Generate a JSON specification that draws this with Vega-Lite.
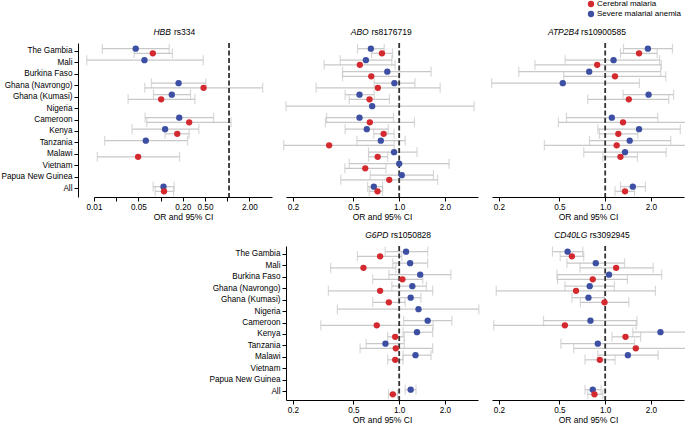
{
  "$schema": "https://vega.github.io/schema/vega-lite/v6.json",
  "background": "white",
  "padding": 0,
  "data": {"values": [
    {"g":"HBB","c":"The Gambia","s":"Severe malarial anemia","or":0.0415,"lo":0.0133,"hi":0.13},
    {"g":"HBB","c":"The Gambia","s":"Cerebral malaria","or":0.0743,"lo":0.0393,"hi":0.145},
    {"g":"HBB","c":"Mali","s":"Severe malarial anemia","or":0.0559,"lo":0.0078,"hi":0.415},
    {"g":"HBB","c":"Ghana (Navrongo)","s":"Severe malarial anemia","or":0.179,"lo":0.071,"hi":0.454},
    {"g":"HBB","c":"Ghana (Navrongo)","s":"Cerebral malaria","or":0.42,"lo":0.0565,"hi":3.15},
    {"g":"HBB","c":"Ghana (Kumasi)","s":"Severe malarial anemia","or":0.142,"lo":0.076,"hi":0.269},
    {"g":"HBB","c":"Ghana (Kumasi)","s":"Cerebral malaria","or":0.0988,"lo":0.032,"hi":0.312},
    {"g":"HBB","c":"Cameroon","s":"Severe malarial anemia","or":0.183,"lo":0.0572,"hi":0.59},
    {"g":"HBB","c":"Cameroon","s":"Cerebral malaria","or":0.257,"lo":0.0605,"hi":1.07},
    {"g":"HBB","c":"Kenya","s":"Severe malarial anemia","or":0.113,"lo":0.0367,"hi":0.357},
    {"g":"HBB","c":"Kenya","s":"Cerebral malaria","or":0.171,"lo":0.113,"hi":0.257},
    {"g":"HBB","c":"Tanzania","s":"Severe malarial anemia","or":0.0585,"lo":0.0144,"hi":0.243},
    {"g":"HBB","c":"Malawi","s":"Cerebral malaria","or":0.045,"lo":0.0112,"hi":0.185},
    {"g":"HBB","c":"All","s":"Severe malarial anemia","or":0.107,"lo":0.0752,"hi":0.154},
    {"g":"HBB","c":"All","s":"Cerebral malaria","or":0.109,"lo":0.0805,"hi":0.151},

    {"g":"ABO","c":"The Gambia","s":"Severe malarial anemia","or":0.651,"lo":0.532,"hi":0.797},
    {"g":"ABO","c":"The Gambia","s":"Cerebral malaria","or":0.77,"lo":0.658,"hi":0.905},
    {"g":"ABO","c":"Mali","s":"Severe malarial anemia","or":0.604,"lo":0.409,"hi":0.895},
    {"g":"ABO","c":"Mali","s":"Cerebral malaria","or":0.551,"lo":0.321,"hi":0.94},
    {"g":"ABO","c":"Burkina Faso","s":"Severe malarial anemia","or":0.835,"lo":0.424,"hi":1.62},
    {"g":"ABO","c":"Burkina Faso","s":"Cerebral malaria","or":0.655,"lo":0.424,"hi":1.0},
    {"g":"ABO","c":"Ghana (Navrongo)","s":"Severe malarial anemia","or":0.93,"lo":0.685,"hi":1.27},
    {"g":"ABO","c":"Ghana (Navrongo)","s":"Cerebral malaria","or":0.724,"lo":0.284,"hi":1.86},
    {"g":"ABO","c":"Ghana (Kumasi)","s":"Severe malarial anemia","or":0.548,"lo":0.441,"hi":0.685},
    {"g":"ABO","c":"Ghana (Kumasi)","s":"Cerebral malaria","or":0.638,"lo":0.469,"hi":0.863},
    {"g":"ABO","c":"Nigeria","s":"Severe malarial anemia","or":0.664,"lo":0.18,"hi":3.11},
    {"g":"ABO","c":"Cameroon","s":"Severe malarial anemia","or":0.548,"lo":0.333,"hi":0.918},
    {"g":"ABO","c":"Cameroon","s":"Cerebral malaria","or":0.641,"lo":0.327,"hi":1.26},
    {"g":"ABO","c":"Kenya","s":"Severe malarial anemia","or":0.612,"lo":0.441,"hi":0.847},
    {"g":"ABO","c":"Kenya","s":"Cerebral malaria","or":0.79,"lo":0.68,"hi":0.925},
    {"g":"ABO","c":"Tanzania","s":"Severe malarial anemia","or":0.757,"lo":0.527,"hi":1.095},
    {"g":"ABO","c":"Tanzania","s":"Cerebral malaria","or":0.346,"lo":0.174,"hi":0.927},
    {"g":"ABO","c":"Malawi","s":"Severe malarial anemia","or":0.925,"lo":0.628,"hi":1.31},
    {"g":"ABO","c":"Malawi","s":"Cerebral malaria","or":0.722,"lo":0.63,"hi":0.84},
    {"g":"ABO","c":"Vietnam","s":"Severe malarial anemia","or":1.0,"lo":0.469,"hi":2.13},
    {"g":"ABO","c":"Vietnam","s":"Cerebral malaria","or":0.598,"lo":0.439,"hi":0.817},
    {"g":"ABO","c":"Papua New Guinea","s":"Severe malarial anemia","or":1.04,"lo":0.645,"hi":1.68},
    {"g":"ABO","c":"Papua New Guinea","s":"Cerebral malaria","or":0.86,"lo":0.413,"hi":1.79},
    {"g":"ABO","c":"All","s":"Severe malarial anemia","or":0.681,"lo":0.62,"hi":0.777},
    {"g":"ABO","c":"All","s":"Cerebral malaria","or":0.72,"lo":0.635,"hi":0.777},

    {"g":"ATP2B4","c":"The Gambia","s":"Severe malarial anemia","or":1.91,"lo":1.32,"hi":2.77},
    {"g":"ATP2B4","c":"The Gambia","s":"Cerebral malaria","or":1.67,"lo":1.26,"hi":2.2},
    {"g":"ATP2B4","c":"Mali","s":"Severe malarial anemia","or":1.135,"lo":0.545,"hi":2.28},
    {"g":"ATP2B4","c":"Mali","s":"Cerebral malaria","or":0.886,"lo":0.345,"hi":2.34},
    {"g":"ATP2B4","c":"Burkina Faso","s":"Severe malarial anemia","or":0.785,"lo":0.27,"hi":2.32},
    {"g":"ATP2B4","c":"Burkina Faso","s":"Cerebral malaria","or":1.16,"lo":0.534,"hi":2.5},
    {"g":"ATP2B4","c":"Ghana (Navrongo)","s":"Severe malarial anemia","or":0.526,"lo":0.179,"hi":1.68},
    {"g":"ATP2B4","c":"Ghana (Kumasi)","s":"Severe malarial anemia","or":1.93,"lo":1.31,"hi":2.82},
    {"g":"ATP2B4","c":"Ghana (Kumasi)","s":"Cerebral malaria","or":1.43,"lo":0.768,"hi":2.62},
    {"g":"ATP2B4","c":"Cameroon","s":"Severe malarial anemia","or":1.106,"lo":0.556,"hi":2.22},
    {"g":"ATP2B4","c":"Cameroon","s":"Cerebral malaria","or":1.31,"lo":0.492,"hi":3.42},
    {"g":"ATP2B4","c":"Kenya","s":"Severe malarial anemia","or":1.67,"lo":0.895,"hi":3.12},
    {"g":"ATP2B4","c":"Kenya","s":"Cerebral malaria","or":1.22,"lo":0.917,"hi":1.64},
    {"g":"ATP2B4","c":"Tanzania","s":"Severe malarial anemia","or":1.45,"lo":0.788,"hi":2.7},
    {"g":"ATP2B4","c":"Tanzania","s":"Cerebral malaria","or":1.19,"lo":0.398,"hi":3.42},
    {"g":"ATP2B4","c":"Malawi","s":"Severe malarial anemia","or":1.35,"lo":0.723,"hi":2.52},
    {"g":"ATP2B4","c":"Malawi","s":"Cerebral malaria","or":1.26,"lo":0.965,"hi":1.63},
    {"g":"ATP2B4","c":"All","s":"Severe malarial anemia","or":1.52,"lo":1.26,"hi":1.84},
    {"g":"ATP2B4","c":"All","s":"Cerebral malaria","or":1.35,"lo":1.16,"hi":1.56},

    {"g":"G6PD","c":"The Gambia","s":"Severe malarial anemia","or":1.11,"lo":0.809,"hi":1.54},
    {"g":"G6PD","c":"The Gambia","s":"Cerebral malaria","or":0.749,"lo":0.531,"hi":1.04},
    {"g":"G6PD","c":"Mali","s":"Severe malarial anemia","or":1.18,"lo":0.908,"hi":1.54},
    {"g":"G6PD","c":"Mali","s":"Cerebral malaria","or":0.582,"lo":0.354,"hi":0.95},
    {"g":"G6PD","c":"Burkina Faso","s":"Severe malarial anemia","or":1.375,"lo":0.855,"hi":2.19},
    {"g":"G6PD","c":"Burkina Faso","s":"Cerebral malaria","or":1.05,"lo":0.67,"hi":1.43},
    {"g":"G6PD","c":"Ghana (Navrongo)","s":"Severe malarial anemia","or":1.22,"lo":0.895,"hi":1.51},
    {"g":"G6PD","c":"Ghana (Navrongo)","s":"Cerebral malaria","or":0.749,"lo":0.342,"hi":1.66},
    {"g":"G6PD","c":"Ghana (Kumasi)","s":"Severe malarial anemia","or":1.19,"lo":0.99,"hi":1.39},
    {"g":"G6PD","c":"Ghana (Kumasi)","s":"Cerebral malaria","or":0.855,"lo":0.67,"hi":1.095},
    {"g":"G6PD","c":"Nigeria","s":"Severe malarial anemia","or":1.34,"lo":0.392,"hi":3.34},
    {"g":"G6PD","c":"Cameroon","s":"Severe malarial anemia","or":1.54,"lo":1.07,"hi":2.22},
    {"g":"G6PD","c":"Cameroon","s":"Cerebral malaria","or":0.712,"lo":0.305,"hi":1.67},
    {"g":"G6PD","c":"Kenya","s":"Severe malarial anemia","or":1.31,"lo":1.06,"hi":1.66},
    {"g":"G6PD","c":"Kenya","s":"Cerebral malaria","or":0.941,"lo":0.84,"hi":1.08},
    {"g":"G6PD","c":"Tanzania","s":"Severe malarial anemia","or":0.812,"lo":0.606,"hi":1.08},
    {"g":"G6PD","c":"Tanzania","s":"Cerebral malaria","or":0.95,"lo":0.553,"hi":1.66},
    {"g":"G6PD","c":"Malawi","s":"Severe malarial anemia","or":1.28,"lo":1.06,"hi":1.62},
    {"g":"G6PD","c":"Malawi","s":"Cerebral malaria","or":0.941,"lo":0.84,"hi":1.06},
    {"g":"G6PD","c":"All","s":"Severe malarial anemia","or":1.19,"lo":1.095,"hi":1.29},
    {"g":"G6PD","c":"All","s":"Cerebral malaria","or":0.908,"lo":0.85,"hi":0.975},

    {"g":"CD40LG","c":"The Gambia","s":"Severe malarial anemia","or":0.566,"lo":0.45,"hi":0.711},
    {"g":"CD40LG","c":"The Gambia","s":"Cerebral malaria","or":0.604,"lo":0.506,"hi":0.722},
    {"g":"CD40LG","c":"Mali","s":"Severe malarial anemia","or":0.867,"lo":0.56,"hi":1.34},
    {"g":"CD40LG","c":"Mali","s":"Cerebral malaria","or":1.18,"lo":0.683,"hi":2.07},
    {"g":"CD40LG","c":"Burkina Faso","s":"Severe malarial anemia","or":1.06,"lo":0.481,"hi":2.35},
    {"g":"CD40LG","c":"Burkina Faso","s":"Cerebral malaria","or":0.828,"lo":0.486,"hi":1.4},
    {"g":"CD40LG","c":"Ghana (Navrongo)","s":"Severe malarial anemia","or":0.791,"lo":0.543,"hi":1.15},
    {"g":"CD40LG","c":"Ghana (Navrongo)","s":"Cerebral malaria","or":0.643,"lo":0.192,"hi":2.14},
    {"g":"CD40LG","c":"Ghana (Kumasi)","s":"Severe malarial anemia","or":0.776,"lo":0.604,"hi":0.99},
    {"g":"CD40LG","c":"Ghana (Kumasi)","s":"Cerebral malaria","or":0.99,"lo":0.687,"hi":1.43},
    {"g":"CD40LG","c":"Cameroon","s":"Severe malarial anemia","or":0.8,"lo":0.393,"hi":1.62},
    {"g":"CD40LG","c":"Cameroon","s":"Cerebral malaria","or":0.543,"lo":0.185,"hi":1.6},
    {"g":"CD40LG","c":"Kenya","s":"Severe malarial anemia","or":2.31,"lo":1.52,"hi":3.44},
    {"g":"CD40LG","c":"Kenya","s":"Cerebral malaria","or":1.36,"lo":1.11,"hi":1.71},
    {"g":"CD40LG","c":"Tanzania","s":"Severe malarial anemia","or":0.894,"lo":0.511,"hi":1.56},
    {"g":"CD40LG","c":"Tanzania","s":"Cerebral malaria","or":1.59,"lo":0.62,"hi":3.44},
    {"g":"CD40LG","c":"Malawi","s":"Severe malarial anemia","or":1.41,"lo":0.894,"hi":2.23},
    {"g":"CD40LG","c":"Malawi","s":"Cerebral malaria","or":0.922,"lo":0.737,"hi":1.16},
    {"g":"CD40LG","c":"All","s":"Severe malarial anemia","or":0.828,"lo":0.737,"hi":0.94},
    {"g":"CD40LG","c":"All","s":"Cerebral malaria","or":0.85,"lo":0.768,"hi":0.965}
  ]},
  "columns": 3,
  "bounds": "flush",
  "spacing": {"row": 49, "column": 14},
  "concat": [
    {
      "width": 178, "height": 154,
      "title": {"text": "HBB\u00a0\u00a0\u00a0\u00a0\u00a0\u00a0\u00a0\u00a0\u00a0\u00a0\u200b", "subtitle": "\u200b\u00a0\u00a0\u00a0\u00a0\u00a0\u00a0\u00a0\u00a0\u00a0rs334", "dx": -9},
      "transform": [{"filter": "datum.g === 'HBB'"}],
      "layer": [
        {
          "encoding": {
            "y": {"field": "c", "type": "nominal", "title": null, "scale": {"domain": ["The Gambia","Mali","Burkina Faso","Ghana (Navrongo)","Ghana (Kumasi)","Nigeria","Cameroon","Kenya","Tanzania","Malawi","Vietnam","Papua New Guinea","All"], "paddingInner": 0, "paddingOuter": 0.196}, "axis": {"offset": 16}},
            "yOffset": {"field": "s", "type": "nominal", "scale": {"domain": ["Severe malarial anemia", "Cerebral malaria"], "paddingInner": 0, "paddingOuter": 0.25}}
          },
          "layer": [
            {"mark": {"type": "rule", "color": "#c8c8c8", "strokeWidth": 1.2},
             "encoding": {"x": {"field": "lo", "type": "quantitative", "title": "OR and 95% CI", "scale": {"type": "log", "domain": [0.01, 4.33], "nice": false},
               "axis": {"values": [0.01, 0.021317, 0.045441, 0.096867, 0.20649, 0.44017, 0.9383, 2], "labelFlush": false, "labelOverlap": false,
                 "labelExpr": "datum.value < 0.015 ? '0.01' : (datum.value > 0.04 && datum.value < 0.05) ? '0.05' : (datum.value > 0.2 && datum.value < 0.21) ? '0.20' : (datum.value > 0.4 && datum.value < 0.45) ? '0.50' : datum.value > 1.5 ? '2.00' : ''"}},
               "x2": {"field": "hi"}}},
            {"mark": {"type": "tick", "orient": "vertical", "color": "#c8c8c8", "size": 10, "thickness": 1.2},
             "encoding": {"x": {"field": "lo", "type": "quantitative", "title": "OR and 95% CI", "scale": {"type": "log", "domain": [0.01, 4.33], "nice": false}}}},
            {"mark": {"type": "tick", "orient": "vertical", "color": "#c8c8c8", "size": 10, "thickness": 1.2},
             "encoding": {"x": {"field": "hi", "type": "quantitative", "title": "OR and 95% CI", "scale": {"type": "log", "domain": [0.01, 4.33], "nice": false}}}}
          ]
        },
        {"data": {"values": [{"v": 1}]}, "mark": {"type": "rule", "color": "#333333", "strokeDash": [5, 2.5], "strokeWidth": 1.8},
         "encoding": {"x": {"field": "v", "type": "quantitative", "title": "OR and 95% CI", "scale": {"type": "log", "domain": [0.01, 4.33], "nice": false}}}},
        {"mark": {"type": "point", "filled": true, "size": 40, "opacity": 1},
         "encoding": {
           "y": {"field": "c", "type": "nominal", "title": null, "scale": {"domain": ["The Gambia","Mali","Burkina Faso","Ghana (Navrongo)","Ghana (Kumasi)","Nigeria","Cameroon","Kenya","Tanzania","Malawi","Vietnam","Papua New Guinea","All"], "paddingInner": 0, "paddingOuter": 0.196}},
           "yOffset": {"field": "s", "type": "nominal", "scale": {"domain": ["Severe malarial anemia", "Cerebral malaria"], "paddingInner": 0, "paddingOuter": 0.25}},
           "x": {"field": "or", "type": "quantitative", "title": "OR and 95% CI", "scale": {"type": "log", "domain": [0.01, 4.33], "nice": false}},
           "color": {"field": "s", "type": "nominal", "scale": {"domain": ["Cerebral malaria", "Severe malarial anemia"], "range": ["#d42a2f", "#3d4fa3"]},
             "legend": {"title": null, "orient": "none", "legendX": 493, "legendY": -43, "symbolType": "circle", "symbolSize": 40, "symbolStrokeWidth": 0, "labelFontSize": 8, "labelOffset": 2, "rowPadding": 2, "padding": 0, "labelColor": "#000"}}
         }}
      ]
    },
    {
      "width": 192, "height": 154,
      "title": {"text": "ABO\u00a0\u00a0\u00a0\u00a0\u00a0\u00a0\u00a0\u00a0\u00a0\u00a0\u00a0\u00a0\u00a0\u00a0\u00a0\u00a0\u00a0\u00a0\u200b", "subtitle": "\u200b\u00a0\u00a0\u00a0\u00a0\u00a0\u00a0\u00a0\u00a0\u00a0rs8176719", "dx": -1},
      "transform": [{"filter": "datum.g === 'ABO'"}],
      "layer": [
        {
          "encoding": {
            "y": {"field": "c", "type": "nominal", "title": null, "scale": {"domain": ["The Gambia","Mali","Burkina Faso","Ghana (Navrongo)","Ghana (Kumasi)","Nigeria","Cameroon","Kenya","Tanzania","Malawi","Vietnam","Papua New Guinea","All"], "paddingInner": 0, "paddingOuter": 0.196}, "axis": null},
            "yOffset": {"field": "s", "type": "nominal", "scale": {"domain": ["Severe malarial anemia", "Cerebral malaria"], "paddingInner": 0, "paddingOuter": 0.25}}
          },
          "layer": [
            {"mark": {"type": "rule", "color": "#c8c8c8", "strokeWidth": 1.2},
             "encoding": {"x": {"field": "lo", "type": "quantitative", "title": "OR and 95% CI", "scale": {"type": "log", "domain": [0.18, 3.3], "nice": false},
               "axis": {"values": [0.2, 0.5, 1, 2], "format": ".1f", "labelFlush": false}},
               "x2": {"field": "hi"}}},
            {"mark": {"type": "tick", "orient": "vertical", "color": "#c8c8c8", "size": 10, "thickness": 1.2},
             "encoding": {"x": {"field": "lo", "type": "quantitative", "title": "OR and 95% CI", "scale": {"type": "log", "domain": [0.18, 3.3], "nice": false}}}},
            {"mark": {"type": "tick", "orient": "vertical", "color": "#c8c8c8", "size": 10, "thickness": 1.2},
             "encoding": {"x": {"field": "hi", "type": "quantitative", "title": "OR and 95% CI", "scale": {"type": "log", "domain": [0.18, 3.3], "nice": false}}}}
          ]
        },
        {"data": {"values": [{"v": 1}]}, "mark": {"type": "rule", "color": "#333333", "strokeDash": [5, 2.5], "strokeWidth": 1.8},
         "encoding": {"x": {"field": "v", "type": "quantitative", "title": "OR and 95% CI", "scale": {"type": "log", "domain": [0.18, 3.3], "nice": false}}}},
        {"mark": {"type": "point", "filled": true, "size": 40, "opacity": 1},
         "encoding": {
           "y": {"field": "c", "type": "nominal", "title": null, "scale": {"domain": ["The Gambia","Mali","Burkina Faso","Ghana (Navrongo)","Ghana (Kumasi)","Nigeria","Cameroon","Kenya","Tanzania","Malawi","Vietnam","Papua New Guinea","All"], "paddingInner": 0, "paddingOuter": 0.196}, "axis": null},
           "yOffset": {"field": "s", "type": "nominal", "scale": {"domain": ["Severe malarial anemia", "Cerebral malaria"], "paddingInner": 0, "paddingOuter": 0.25}},
           "x": {"field": "or", "type": "quantitative", "title": "OR and 95% CI", "scale": {"type": "log", "domain": [0.18, 3.3], "nice": false}},
           "color": {"field": "s", "type": "nominal", "scale": {"domain": ["Cerebral malaria", "Severe malarial anemia"], "range": ["#d42a2f", "#3d4fa3"]},
             "legend": {"title": null, "orient": "none", "legendX": 493, "legendY": -43, "symbolType": "circle", "symbolSize": 40, "symbolStrokeWidth": 0, "labelFontSize": 8, "labelOffset": 2, "rowPadding": 2, "padding": 0, "labelColor": "#000"}}
         }}
      ]
    },
    {
      "width": 192, "height": 154,
      "title": {"text": "ATP2B4\u00a0\u00a0\u00a0\u00a0\u00a0\u00a0\u00a0\u00a0\u00a0\u00a0\u00a0\u00a0\u00a0\u00a0\u00a0\u00a0\u00a0\u00a0\u00a0\u00a0\u200b", "subtitle": "\u200b\u00a0\u00a0\u00a0\u00a0\u00a0\u00a0\u00a0\u00a0\u00a0\u00a0\u00a0\u00a0\u00a0\u00a0rs10900585", "dx": -1},
      "transform": [{"filter": "datum.g === 'ATP2B4'"}],
      "layer": [
        {
          "encoding": {
            "y": {"field": "c", "type": "nominal", "title": null, "scale": {"domain": ["The Gambia","Mali","Burkina Faso","Ghana (Navrongo)","Ghana (Kumasi)","Nigeria","Cameroon","Kenya","Tanzania","Malawi","Vietnam","Papua New Guinea","All"], "paddingInner": 0, "paddingOuter": 0.196}, "axis": null},
            "yOffset": {"field": "s", "type": "nominal", "scale": {"domain": ["Severe malarial anemia", "Cerebral malaria"], "paddingInner": 0, "paddingOuter": 0.25}}
          },
          "layer": [
            {"mark": {"type": "rule", "color": "#c8c8c8", "strokeWidth": 1.2},
             "encoding": {"x": {"field": "lo", "type": "quantitative", "title": "OR and 95% CI", "scale": {"type": "log", "domain": [0.18, 3.3], "nice": false},
               "axis": {"values": [0.2, 0.5, 1, 2], "format": ".1f", "labelFlush": false}},
               "x2": {"field": "hi"}}},
            {"mark": {"type": "tick", "orient": "vertical", "color": "#c8c8c8", "size": 10, "thickness": 1.2},
             "encoding": {"x": {"field": "lo", "type": "quantitative", "title": "OR and 95% CI", "scale": {"type": "log", "domain": [0.18, 3.3], "nice": false}}}},
            {"mark": {"type": "tick", "orient": "vertical", "color": "#c8c8c8", "size": 10, "thickness": 1.2},
             "encoding": {"x": {"field": "hi", "type": "quantitative", "title": "OR and 95% CI", "scale": {"type": "log", "domain": [0.18, 3.3], "nice": false}}}}
          ]
        },
        {"data": {"values": [{"v": 1}]}, "mark": {"type": "rule", "color": "#333333", "strokeDash": [5, 2.5], "strokeWidth": 1.8},
         "encoding": {"x": {"field": "v", "type": "quantitative", "title": "OR and 95% CI", "scale": {"type": "log", "domain": [0.18, 3.3], "nice": false}}}},
        {"mark": {"type": "point", "filled": true, "size": 40, "opacity": 1},
         "encoding": {
           "y": {"field": "c", "type": "nominal", "title": null, "scale": {"domain": ["The Gambia","Mali","Burkina Faso","Ghana (Navrongo)","Ghana (Kumasi)","Nigeria","Cameroon","Kenya","Tanzania","Malawi","Vietnam","Papua New Guinea","All"], "paddingInner": 0, "paddingOuter": 0.196}, "axis": null},
           "yOffset": {"field": "s", "type": "nominal", "scale": {"domain": ["Severe malarial anemia", "Cerebral malaria"], "paddingInner": 0, "paddingOuter": 0.25}},
           "x": {"field": "or", "type": "quantitative", "title": "OR and 95% CI", "scale": {"type": "log", "domain": [0.18, 3.3], "nice": false}},
           "color": {"field": "s", "type": "nominal", "scale": {"domain": ["Cerebral malaria", "Severe malarial anemia"], "range": ["#d42a2f", "#3d4fa3"]},
             "legend": {"title": null, "orient": "none", "legendX": 493, "legendY": -43, "symbolType": "circle", "symbolSize": 40, "symbolStrokeWidth": 0, "labelFontSize": 8, "labelOffset": 2, "rowPadding": 2, "padding": 0, "labelColor": "#000"}}
         }}
      ]
    },
    {
      "data": {"values": [{"z": 0}]},
      "width": 178, "height": 154,
      "mark": {"type": "text"},
      "encoding": {"text": {"value": ""}}
    },
    {
      "width": 192, "height": 154,
      "title": {"text": "G6PD\u00a0\u00a0\u00a0\u00a0\u00a0\u00a0\u00a0\u00a0\u00a0\u00a0\u00a0\u00a0\u00a0\u00a0\u00a0\u00a0\u00a0\u00a0\u200b", "subtitle": "\u200b\u00a0\u00a0\u00a0\u00a0\u00a0\u00a0\u00a0\u00a0\u00a0\u00a0\u00a0rs1050828", "dx": 16},
      "transform": [{"filter": "datum.g === 'G6PD'"}],
      "layer": [
        {
          "encoding": {
            "y": {"field": "c", "type": "nominal", "title": null, "scale": {"domain": ["The Gambia","Mali","Burkina Faso","Ghana (Navrongo)","Ghana (Kumasi)","Nigeria","Cameroon","Kenya","Tanzania","Malawi","Vietnam","Papua New Guinea","All"], "paddingInner": 0, "paddingOuter": 0.196}, "axis": {"offset": 0}},
            "yOffset": {"field": "s", "type": "nominal", "scale": {"domain": ["Severe malarial anemia", "Cerebral malaria"], "paddingInner": 0, "paddingOuter": 0.25}}
          },
          "layer": [
            {"mark": {"type": "rule", "color": "#c8c8c8", "strokeWidth": 1.2},
             "encoding": {"x": {"field": "lo", "type": "quantitative", "title": "OR and 95% CI", "scale": {"type": "log", "domain": [0.18, 3.3], "nice": false},
               "axis": {"values": [0.2, 0.5, 1, 2], "format": ".1f", "labelFlush": false}},
               "x2": {"field": "hi"}}},
            {"mark": {"type": "tick", "orient": "vertical", "color": "#c8c8c8", "size": 10, "thickness": 1.2},
             "encoding": {"x": {"field": "lo", "type": "quantitative", "title": "OR and 95% CI", "scale": {"type": "log", "domain": [0.18, 3.3], "nice": false}}}},
            {"mark": {"type": "tick", "orient": "vertical", "color": "#c8c8c8", "size": 10, "thickness": 1.2},
             "encoding": {"x": {"field": "hi", "type": "quantitative", "title": "OR and 95% CI", "scale": {"type": "log", "domain": [0.18, 3.3], "nice": false}}}}
          ]
        },
        {"data": {"values": [{"v": 1}]}, "mark": {"type": "rule", "color": "#333333", "strokeDash": [5, 2.5], "strokeWidth": 1.8},
         "encoding": {"x": {"field": "v", "type": "quantitative", "title": "OR and 95% CI", "scale": {"type": "log", "domain": [0.18, 3.3], "nice": false}}}},
        {"mark": {"type": "point", "filled": true, "size": 40, "opacity": 1},
         "encoding": {
           "y": {"field": "c", "type": "nominal", "title": null, "scale": {"domain": ["The Gambia","Mali","Burkina Faso","Ghana (Navrongo)","Ghana (Kumasi)","Nigeria","Cameroon","Kenya","Tanzania","Malawi","Vietnam","Papua New Guinea","All"], "paddingInner": 0, "paddingOuter": 0.196}},
           "yOffset": {"field": "s", "type": "nominal", "scale": {"domain": ["Severe malarial anemia", "Cerebral malaria"], "paddingInner": 0, "paddingOuter": 0.25}},
           "x": {"field": "or", "type": "quantitative", "title": "OR and 95% CI", "scale": {"type": "log", "domain": [0.18, 3.3], "nice": false}},
           "color": {"field": "s", "type": "nominal", "scale": {"domain": ["Cerebral malaria", "Severe malarial anemia"], "range": ["#d42a2f", "#3d4fa3"]},
             "legend": {"title": null, "orient": "none", "legendX": 493, "legendY": -43, "symbolType": "circle", "symbolSize": 40, "symbolStrokeWidth": 0, "labelFontSize": 8, "labelOffset": 2, "rowPadding": 2, "padding": 0, "labelColor": "#000"}}
         }}
      ]
    },
    {
      "width": 192, "height": 154,
      "title": {"text": "CD40LG\u00a0\u00a0\u00a0\u00a0\u00a0\u00a0\u00a0\u00a0\u00a0\u00a0\u00a0\u00a0\u00a0\u00a0\u00a0\u00a0\u00a0\u00a0\u200b", "subtitle": "\u200b\u00a0\u00a0\u00a0\u00a0\u00a0\u00a0\u00a0\u00a0\u00a0\u00a0\u00a0\u00a0\u00a0\u00a0\u00a0rs3092945", "dx": 4},
      "transform": [{"filter": "datum.g === 'CD40LG'"}],
      "layer": [
        {
          "encoding": {
            "y": {"field": "c", "type": "nominal", "title": null, "scale": {"domain": ["The Gambia","Mali","Burkina Faso","Ghana (Navrongo)","Ghana (Kumasi)","Nigeria","Cameroon","Kenya","Tanzania","Malawi","Vietnam","Papua New Guinea","All"], "paddingInner": 0, "paddingOuter": 0.196}, "axis": null},
            "yOffset": {"field": "s", "type": "nominal", "scale": {"domain": ["Severe malarial anemia", "Cerebral malaria"], "paddingInner": 0, "paddingOuter": 0.25}}
          },
          "layer": [
            {"mark": {"type": "rule", "color": "#c8c8c8", "strokeWidth": 1.2},
             "encoding": {"x": {"field": "lo", "type": "quantitative", "title": "OR and 95% CI", "scale": {"type": "log", "domain": [0.18, 3.3], "nice": false},
               "axis": {"values": [0.2, 0.5, 1, 2], "format": ".1f", "labelFlush": false}},
               "x2": {"field": "hi"}}},
            {"mark": {"type": "tick", "orient": "vertical", "color": "#c8c8c8", "size": 10, "thickness": 1.2},
             "encoding": {"x": {"field": "lo", "type": "quantitative", "title": "OR and 95% CI", "scale": {"type": "log", "domain": [0.18, 3.3], "nice": false}}}},
            {"mark": {"type": "tick", "orient": "vertical", "color": "#c8c8c8", "size": 10, "thickness": 1.2},
             "encoding": {"x": {"field": "hi", "type": "quantitative", "title": "OR and 95% CI", "scale": {"type": "log", "domain": [0.18, 3.3], "nice": false}}}}
          ]
        },
        {"data": {"values": [{"v": 1}]}, "mark": {"type": "rule", "color": "#333333", "strokeDash": [5, 2.5], "strokeWidth": 1.8},
         "encoding": {"x": {"field": "v", "type": "quantitative", "title": "OR and 95% CI", "scale": {"type": "log", "domain": [0.18, 3.3], "nice": false}}}},
        {"mark": {"type": "point", "filled": true, "size": 40, "opacity": 1},
         "encoding": {
           "y": {"field": "c", "type": "nominal", "title": null, "scale": {"domain": ["The Gambia","Mali","Burkina Faso","Ghana (Navrongo)","Ghana (Kumasi)","Nigeria","Cameroon","Kenya","Tanzania","Malawi","Vietnam","Papua New Guinea","All"], "paddingInner": 0, "paddingOuter": 0.196}, "axis": null},
           "yOffset": {"field": "s", "type": "nominal", "scale": {"domain": ["Severe malarial anemia", "Cerebral malaria"], "paddingInner": 0, "paddingOuter": 0.25}},
           "x": {"field": "or", "type": "quantitative", "title": "OR and 95% CI", "scale": {"type": "log", "domain": [0.18, 3.3], "nice": false}},
           "color": {"field": "s", "type": "nominal", "scale": {"domain": ["Cerebral malaria", "Severe malarial anemia"], "range": ["#d42a2f", "#3d4fa3"]},
             "legend": {"title": null, "orient": "none", "legendX": 493, "legendY": -43, "symbolType": "circle", "symbolSize": 40, "symbolStrokeWidth": 0, "labelFontSize": 8, "labelOffset": 2, "rowPadding": 2, "padding": 0, "labelColor": "#000"}}
         }}
      ]
    }
  ],
  "config": {
    "font": "Liberation Sans",
    "view": {"stroke": null},
    "axis": {"domainColor": "#000", "tickColor": "#000", "labelColor": "#000", "titleColor": "#000", "tickSize": 4, "labelFontSize": 8.2, "titleFontSize": 8.5, "titleFontWeight": "normal", "labelPadding": 2, "titlePadding": 2, "grid": false, "domainWidth": 1, "tickWidth": 1},
    "title": {"fontSize": 8.5, "fontWeight": "normal", "color": "#000", "fontStyle": "italic", "subtitleFontSize": 8.5, "subtitleColor": "#000", "subtitleFontStyle": "normal", "subtitlePadding": -8.5, "offset": 6, "anchor": "middle"}
  }
}
